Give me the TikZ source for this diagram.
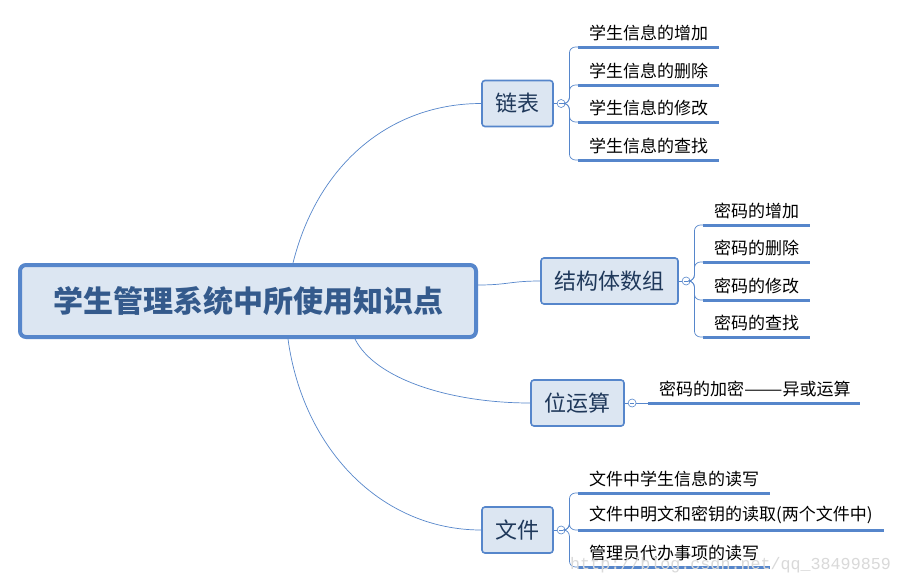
\documentclass[tikz,border=0pt]{standalone}
\usepackage{fontspec}
\usepackage{tikz}
\usetikzlibrary{positioning,calc}
\newfontfamily\cjk{Noto Sans CJK SC}
\newfontfamily\wmfont{Liberation Mono}
\definecolor{mmblue}{RGB}{86,134,203}
\definecolor{mmfill}{RGB}{220,230,242}
\definecolor{mmtext}{RGB}{31,56,90}
\definecolor{roottext}{RGB}{52,90,140}

\begin{document}
\begin{tikzpicture}[
  x=1pt, y=-1pt,
  font=\cjk,
  root/.style={draw=mmblue, fill=mmfill, rounded corners=6pt, line width=4pt, minimum width=456pt, minimum height=72pt, text=roottext, font=\cjk\bfseries\fontsize{30}{36}\selectfont},
  topic/.style={draw=mmblue, fill=mmfill, rounded corners=3pt, line width=1.6pt, minimum height=46pt, text=mmtext, font=\cjk\fontsize{22}{26}\selectfont},
  knob/.style={circle, draw=mmblue, fill=white, line width=0.6pt, inner sep=0pt, minimum size=8pt},
  leaf/.style={anchor=south west, inner xsep=11pt, inner ysep=6pt, font=\cjk\fontsize{17}{20}\selectfont},
  uline/.style={draw=mmblue, line width=3pt},
  branch/.style={draw=mmblue, line width=0.7pt},
  twig/.style={draw=mmblue, line width=0.7pt, rounded corners=6pt},
  wm/.style={anchor=west, inner sep=0pt, text=gray!30, font=\wmfont\fontsize{16.7}{20}\selectfont},
]
\fill[white] (0,0) rectangle (902,584);
\useasboundingbox (0,0) rectangle (902,584);

% ---- centre ----
\node[root] (root) at (248,301) {学生管理系统中所使用知识点};

% ---- topics ----
\node[topic, minimum width=71pt]  (lb) at (517.5,103.5) {链表};
\node[topic, minimum width=137pt] (jg) at (609.5,281)   {结构体数组};
\node[topic, minimum width=93pt]  (yw) at (577.5,403)   {位运算};
\node[topic, minimum width=71pt]  (wj) at (517.5,530)   {文件};

\node[knob, right=3pt of lb] (lbk) {};
\node[knob, right=3pt of jg] (jgk) {};
\node[knob, right=3pt of yw] (ywk) {};
\node[knob, right=3pt of wj] (wjk) {};
\foreach \t in {lb, jg, yw, wj} {
  \draw[branch] (\t.east) -- (\t k.west);
  \draw[mmblue, line width=0.8pt] ([xshift=-2pt]\t k.center) -- ([xshift=2pt]\t k.center);
}

% ---- leaves: linked list ----
\node[leaf] (lb1) at (578,47)  {学生信息的增加};
\node[leaf] (lb2) at (578,85)  {学生信息的删除};
\node[leaf] (lb3) at (578,122) {学生信息的修改};
\node[leaf] (lb4) at (578,160) {学生信息的查找};

% ---- leaves: struct array ----
\node[leaf] (jg1) at (703,225) {密码的增加};
\node[leaf] (jg2) at (703,262) {密码的删除};
\node[leaf] (jg3) at (703,300) {密码的修改};
\node[leaf] (jg4) at (703,337) {密码的查找};

% ---- leaves: bit ops ----
\node[leaf, text width=190pt, align=left] (yw1) at (648,403) {密码的加密\scalebox{1.35}[1]{——}异或运算};

% ---- leaves: files ----
\node[leaf] (wj1) at (578,493) {文件中学生信息的读写};
\node[leaf] (wj2) at (578,530) {文件中明文和密钥的读取(两个文件中)};
\node[leaf] (wj3) at (578,567) {管理员代办事项的读写};

% ---- twigs + underlines ----
\foreach \t/\n in {lb/1, lb/2, lb/3, lb/4, jg/1, jg/2, jg/3, jg/4, wj/1, wj/2, wj/3}
  \draw[twig] (\t k.east) -- ++(4,0) |- (\t\n.south west);
\draw[twig] (ywk.east) -- (yw1.south west);
\foreach \l in {lb1, lb2, lb3, lb4, jg1, jg2, jg3, jg4, yw1, wj1, wj2, wj3}
  \draw[uline] (\l.south west) -- (\l.south east);

% ---- branches from centre ----
\draw[branch] ([xshift=45pt]root.north) .. controls +(25,-100) and +(-90,0) .. (lb.west);
\draw[branch] ([yshift=16pt]root.east) .. controls +(30,0) and +(-30,0) .. (jg.west);
\draw[branch] ([xshift=107pt]root.south) .. controls +(20,40) and +(-80,0) .. (yw.west);
\draw[branch] ([xshift=40pt]root.south) .. controls +(15,110) and +(-100,0) .. (wj.west);

% ---- watermark ----
\node[wm] (mark) at (570,565) {http://blog.csdn.net/qq\_38499859};
\end{tikzpicture}
\end{document}
